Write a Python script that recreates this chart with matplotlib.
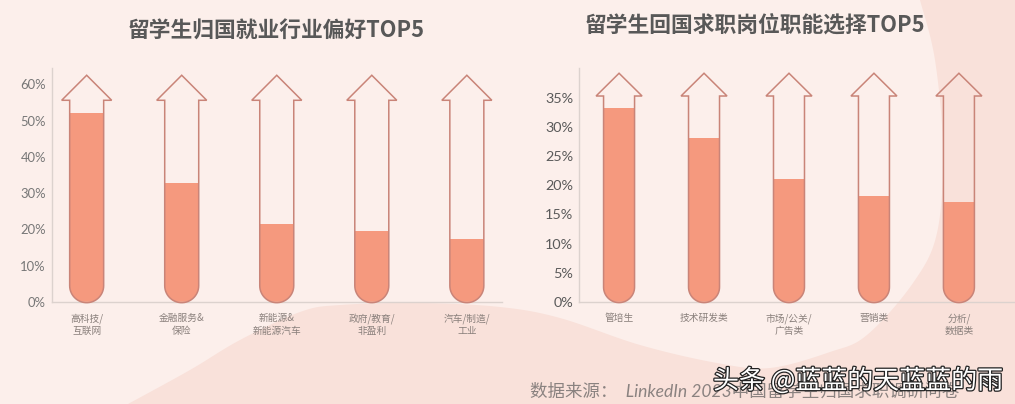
import numpy as np
import matplotlib
matplotlib.use("Agg")
import matplotlib.pyplot as plt
import matplotlib.patheffects as pe
from matplotlib.path import Path
from matplotlib.patches import PathPatch, Polygon

plt.rcParams["font.family"] = ["Noto Sans CJK SC", "DejaVu Sans"]

W, H = 1015, 404

left_title = "留学生归国就业行业偏好TOP5"
left_labels = ["高科技/\n互联网", "金融服务&\n保险", "新能源&\n新能源汽车", "政府/教育/\n非盈利", "汽车/制造/\n工业"]
left_values = [52, 32.8, 21.5, 19.5, 17.4]
left_ticks = [0, 10, 20, 30, 40, 50, 60]

right_title = "留学生回国求职岗位职能选择TOP5"
right_labels = ["管培生", "技术研发类", "市场/公关/\n广告类", "营销类", "分析/\n数据类"]
right_values = [33.2, 28.1, 21.1, 18.1, 17.1]
right_ticks = [0, 5, 10, 15, 20, 25, 30, 35]

source_text = "数据来源：  LinkedIn 2023中国留学生归国求职调研问卷"
watermark = "头条 @蓝蓝的天蓝蓝的雨"

FILL = "#f5997e"
EDGE = "#c98478"
AXIS = "#dcd2ce"
BG_LIGHT = "#fcefeb"
BG_DARK = "#f9e1da"


def smooth(points, n=14):
    # catmull-rom through the outline points of the background shape
    pts = np.array(points, dtype=float)
    pts = np.vstack([pts[0], pts, pts[-1]])
    out = []
    for i in range(1, len(pts) - 2):
        p0, p1, p2, p3 = pts[i - 1], pts[i], pts[i + 1], pts[i + 2]
        for t in np.linspace(0, 1, n, endpoint=False):
            out.append(0.5 * (2 * p1 + (p2 - p0) * t + (2 * p0 - 5 * p1 + 4 * p2 - p3) * t**2
                              + (3 * p1 - p0 - 3 * p2 + p3) * t**3))
    out.append(pts[-2])
    return np.array(out)


def tube_path(x, rx, ry, shoulder, tip, head):
    # arrow-shaped test tube, in data units of the panel
    t = np.linspace(np.pi, 2 * np.pi, 30)
    arc = np.column_stack([x + rx * np.cos(t), ry * (1 + np.sin(t)) - 0.04 * ry])
    verts = list(map(tuple, arc))
    verts += [(x + rx, shoulder), (x + head, shoulder), (x, tip),
              (x - head, shoulder), (x - rx, shoulder), tuple(arc[0])]
    codes = [Path.MOVETO] + [Path.LINETO] * (len(verts) - 2) + [Path.CLOSEPOLY]
    return Path(verts, codes)


def draw_panel(fig, box, values, labels, ticks, ylim, xlim, geom, tick_size, tick_color):
    x0, x1, y_top, y_bot = box
    ax = fig.add_axes([x0 / W, 1 - y_bot / H, (x1 - x0) / W, (y_bot - y_top) / H])
    ax.patch.set_alpha(0)
    ax.set_xlim(*xlim)
    ax.set_ylim(0, ylim)
    px_x = (x1 - x0) / (xlim[1] - xlim[0])
    px_y = (y_bot - y_top) / ylim
    r, head, shoulder, tip = geom
    for i, v in enumerate(values):
        path = tube_path(i, r / px_x, r / px_y, shoulder, tip, head / px_x)
        outline = PathPatch(path, facecolor="none", edgecolor=EDGE, lw=1.1, clip_on=False, zorder=3)
        ax.add_patch(outline)
        shell = PathPatch(path, transform=ax.transData)
        bar = ax.bar(i, v + 1, bottom=-1, width=2 * r / px_x, color=FILL, zorder=2)[0]
        bar.set_clip_path(shell)
        bar.set_clip_on(True)
    ax.set_xticks(range(len(labels)))
    ax.set_xticklabels(labels, fontsize=7, color="#8a807c", linespacing=1.3)
    ax.set_yticks(ticks)
    ax.set_yticklabels([f"{t}%" for t in ticks], fontsize=tick_size, color=tick_color, family=["Lato", "DejaVu Sans"])
    ax.tick_params(axis="both", length=0)
    ax.tick_params(axis="x", pad=8)
    ax.tick_params(axis="y", pad=4)
    for side in ["top", "right"]:
        ax.spines[side].set_visible(False)
    for side in ["left", "bottom"]:
        ax.spines[side].set_color(AXIS)
        ax.spines[side].set_linewidth(1.0)
    return ax


fig = plt.figure(figsize=(W / 100, H / 100), dpi=100)
fig.patch.set_facecolor(BG_DARK)

bg = fig.add_axes([0, 0, 1, 1])
bg.set_xlim(0, W)
bg.set_ylim(H, 0)
bg.axis("off")
edge = smooth([(920, 0), (935, 60), (943, 150), (937, 233), (913, 283), (867, 335), (830, 352),
               (770, 368), (717, 363), (640, 345), (560, 318), (500, 307), (420, 303),
               (340, 305), (300, 312), (240, 340), (190, 370), (128, 404)])
bg.add_patch(Polygon(np.vstack([[(0, 0)], edge, [(0, H)]]), closed=True, facecolor=BG_LIGHT, edgecolor="none"))

draw_panel(fig, (51.5, 502, 68, 302), left_values, left_labels, left_ticks, 64.5, (-0.37, 4.37),
           (17, 25, 55.6, 62.5), 9.4, "#777777")
draw_panel(fig, (578.7, 1015, 68, 302), right_values, right_labels, right_ticks, 40.1, (-0.475, 4.66),
           (15.5, 23, 35.3, 39.2), 10.4, "#5a5a5a")

bg.text(276.5, 31, left_title, fontsize=15.7, color="#585858", ha="center", va="center", weight="bold")
bg.text(754.5, 26, right_title, fontsize=15.7, color="#585858", ha="center", va="center", weight="bold")
bg.text(530, 391, source_text, fontsize=12.6, color="#8a8280", ha="left", va="center", style="italic",
        family=["Lato", "Noto Sans CJK SC"])
bg.text(713, 381, watermark, fontsize=18.7, color="white", ha="left", va="center", zorder=10,
        path_effects=[pe.withStroke(linewidth=1.8, foreground="#222222")])

fig.savefig("out.png", dpi=100, facecolor=fig.get_facecolor())
